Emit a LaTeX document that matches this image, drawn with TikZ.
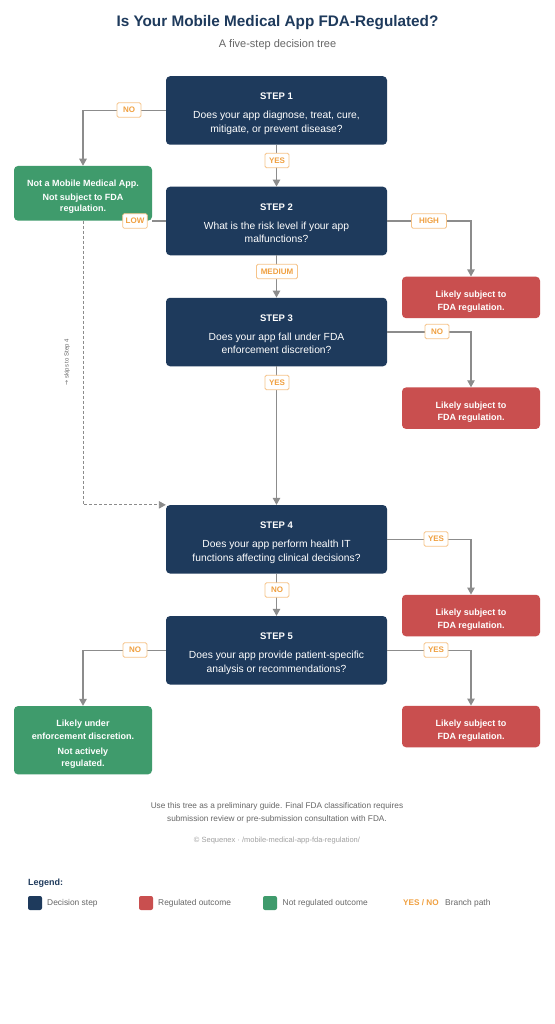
\documentclass[tikz,border=0pt]{standalone}
\usepackage{fontspec}
\setmainfont{Liberation Sans}
\newfontfamily\arrowfont{DejaVu Sans}
\usetikzlibrary{arrows.meta}
\definecolor{navy}{HTML}{1E3A5C}
\definecolor{redbox}{HTML}{C94F4F}
\definecolor{greenbox}{HTML}{3F9B6C}
\definecolor{orangel}{HTML}{F0A040}
\definecolor{orangeb}{HTML}{F6C48A}
\definecolor{connc}{HTML}{8C8C8C}
\definecolor{txtgray}{HTML}{666666}
\definecolor{lightgray}{HTML}{A0A0A0}
\newcommand{\dpfix}{\rule[-2.5pt]{0pt}{2.5pt}}
\newcommand{\stephead}[1]{\textbf{\fontsize{9.5}{12}\selectfont STEP #1}}
\begin{document}
\begin{tikzpicture}[x=1pt,y=-1pt,
  stepbox/.style={fill=navy, rounded corners=4pt, minimum width=221pt, minimum height=68.5pt, inner sep=0pt},
  steptext/.style={text=white, align=center, font=\fontsize{10.3}{13.7}\selectfont, inner sep=0pt, yshift=-3.5pt},
  redout/.style={fill=redbox, rounded corners=4pt, minimum width=138pt, minimum height=41.5pt, inner sep=0pt},
  redtext/.style={text=white, align=center, font=\bfseries\fontsize{9}{12.6}\selectfont, inner sep=0pt, yshift=-4pt},
  greenout/.style={fill=greenbox, rounded corners=4pt, minimum width=138pt, inner sep=0pt},
  greentext/.style={text=white, align=center, inner sep=0pt},
  lbl/.style={draw=orangeb, fill=white, rounded corners=1.5pt, text=orangel, font=\bfseries\fontsize{8}{9}\selectfont, inner xsep=3pt, inner ysep=0pt, minimum width=24pt, minimum height=14.5pt, line width=0.8pt},
  conn/.style={draw=connc, line width=1.1pt},
  arr/.style={conn, -{Triangle[width=7.5pt,length=7pt]}},
  legsq/.style={fill=#1, rounded corners=2pt, minimum size=14pt, inner sep=0pt},
  legtxt/.style={anchor=west, text=txtgray, font=\fontsize{8.4}{10}\selectfont, inner sep=0pt},
]
\useasboundingbox (0,0) rectangle (554,1024);
\fill[white] (0,0) rectangle (554,1024);

% title
\node[text=navy, font=\bfseries\fontsize{15.3}{18}\selectfont] (title) at (277.5,23) {Is Your Mobile Medical App FDA-Regulated?};
\node[text=txtgray, font=\fontsize{11}{13}\selectfont] (subtitle) at (277.5,44.5) {A five-step decision tree};

% steps
\node[stepbox, label={[steptext]center:{\stephead{1}\\[5.3pt]Does your app diagnose, treat, cure,\\mitigate, or prevent disease?\dpfix}}] (s1) at (276.5,110.5) {};
\node[stepbox, label={[steptext]center:{\stephead{2}\\[5.3pt]What is the risk level if your app\\malfunctions?\dpfix}}] (s2) at (276.5,221) {};
\node[stepbox, label={[steptext]center:{\stephead{3}\\[5.3pt]Does your app fall under FDA\\enforcement discretion?\dpfix}}] (s3) at (276.5,332) {};
\node[stepbox, label={[steptext]center:{\stephead{4}\\[5.3pt]Does your app perform health IT\\functions affecting clinical decisions?\dpfix}}] (s4) at (276.5,539.3) {};
\node[stepbox, label={[steptext]center:{\stephead{5}\\[5.3pt]Does your app provide patient-specific\\analysis or recommendations?\dpfix}}] (s5) at (276.5,650.3) {};

% outcomes
\node[greenout, minimum height=54.7pt, label={[greentext, font=\bfseries\fontsize{9}{10.8}\selectfont, yshift=-3.5pt]center:{Not a Mobile Medical App.\\[3.5pt]Not subject to FDA\\regulation.}}] (g1) at (83,193.3) {};
\node[greenout, minimum height=68.3pt, label={[greentext, font=\bfseries\fontsize{9}{12.1}\selectfont, yshift=-4pt]center:{Likely under\\enforcement discretion.\\[2.9pt]Not actively\\regulated.}}] (g2) at (83,740.2) {};
\node[redout, label={[redtext]center:{Likely subject to\\FDA regulation.}}] (r1) at (471,297.4) {};
\node[redout, label={[redtext]center:{Likely subject to\\FDA regulation.}}] (r2) at (471,408.2) {};
\node[redout, label={[redtext]center:{Likely subject to\\FDA regulation.}}] (r3) at (471,615.5) {};
\node[redout, label={[redtext]center:{Likely subject to\\FDA regulation.}}] (r4) at (471,726.5) {};

% connectors
\draw[arr] (s1.south) -- (s2.north);
\draw[arr] (s2.south) -- (s3.north);
\draw[arr] (s3.south) -- (s4.north);
\draw[arr] (s4.south) -- (s5.north);
\draw[arr] (s1.west) -| (g1.north);
\draw[conn] (s2.west) -- (g1.east |- s2.west);
\draw[arr] (s2.east) -| (r1.north);
\draw[arr] (s3.east) -| (r2.north);
\draw[arr] (s4.east) -| (r3.north);
\draw[arr] (s5.east) -| (r4.north);
\draw[arr] (s5.west) -| (g2.north);
\draw[conn, line width=0.9pt, dash pattern=on 3pt off 2pt, -{Triangle[width=7.5pt,length=7pt]}] (g1.south) |- (s4.north west);
\node[rotate=90, text=txtgray, font=\fontsize{6}{7}\selectfont] (skip) at (67,362) {{\arrowfont→} skips to Step 4};

% labels
\node[lbl] (l1) at (129,110) {NO};
\node[lbl] (l2) at (277,160.5) {YES};
\node[lbl] (l3) at (135,221) {LOW};
\node[lbl, minimum width=35pt] (l4) at (429,221) {HIGH};
\node[lbl, minimum width=41pt] (l5) at (277,271.5) {MEDIUM};
\node[lbl] (l6) at (437,331.5) {NO};
\node[lbl] (l7) at (277,382.5) {YES};
\node[lbl] (l8) at (436,539) {YES};
\node[lbl] (l9) at (277,590) {NO};
\node[lbl] (l10) at (135,650) {NO};
\node[lbl] (l11) at (436,650) {YES};

% footer
\node[text=txtgray, align=center, font=\fontsize{8.25}{13}\selectfont] (foot) at (277,812.5) {Use this tree as a preliminary guide. Final FDA classification requires\\submission review or pre-submission consultation with FDA.};
\node[text=lightgray, font=\fontsize{7.5}{9}\selectfont] (copy) at (277,840.5) {© Sequenex · /mobile-medical-app-fda-regulation/};

% legend
\node[anchor=west, text=navy, font=\bfseries\fontsize{9}{11}\selectfont, inner sep=0pt] (legend) at (28,883) {Legend:};
\node[legsq=navy] (k1) at (35,903) {};
\node[legtxt] (t1) at (47,903.5) {Decision step};
\node[legsq=redbox] (k2) at (146,903) {};
\node[legtxt] (t2) at (158,903.5) {Regulated outcome};
\node[legsq=greenbox] (k3) at (270,903) {};
\node[legtxt] (t3) at (282.5,903.5) {Not regulated outcome};
\node[legtxt, text=orangel, font=\bfseries\fontsize{8.2}{10}\selectfont] (t4) at (403,903) {YES / NO};
\node[legtxt] (t5) at (445,903.5) {Branch path};
\end{tikzpicture}
\end{document}
